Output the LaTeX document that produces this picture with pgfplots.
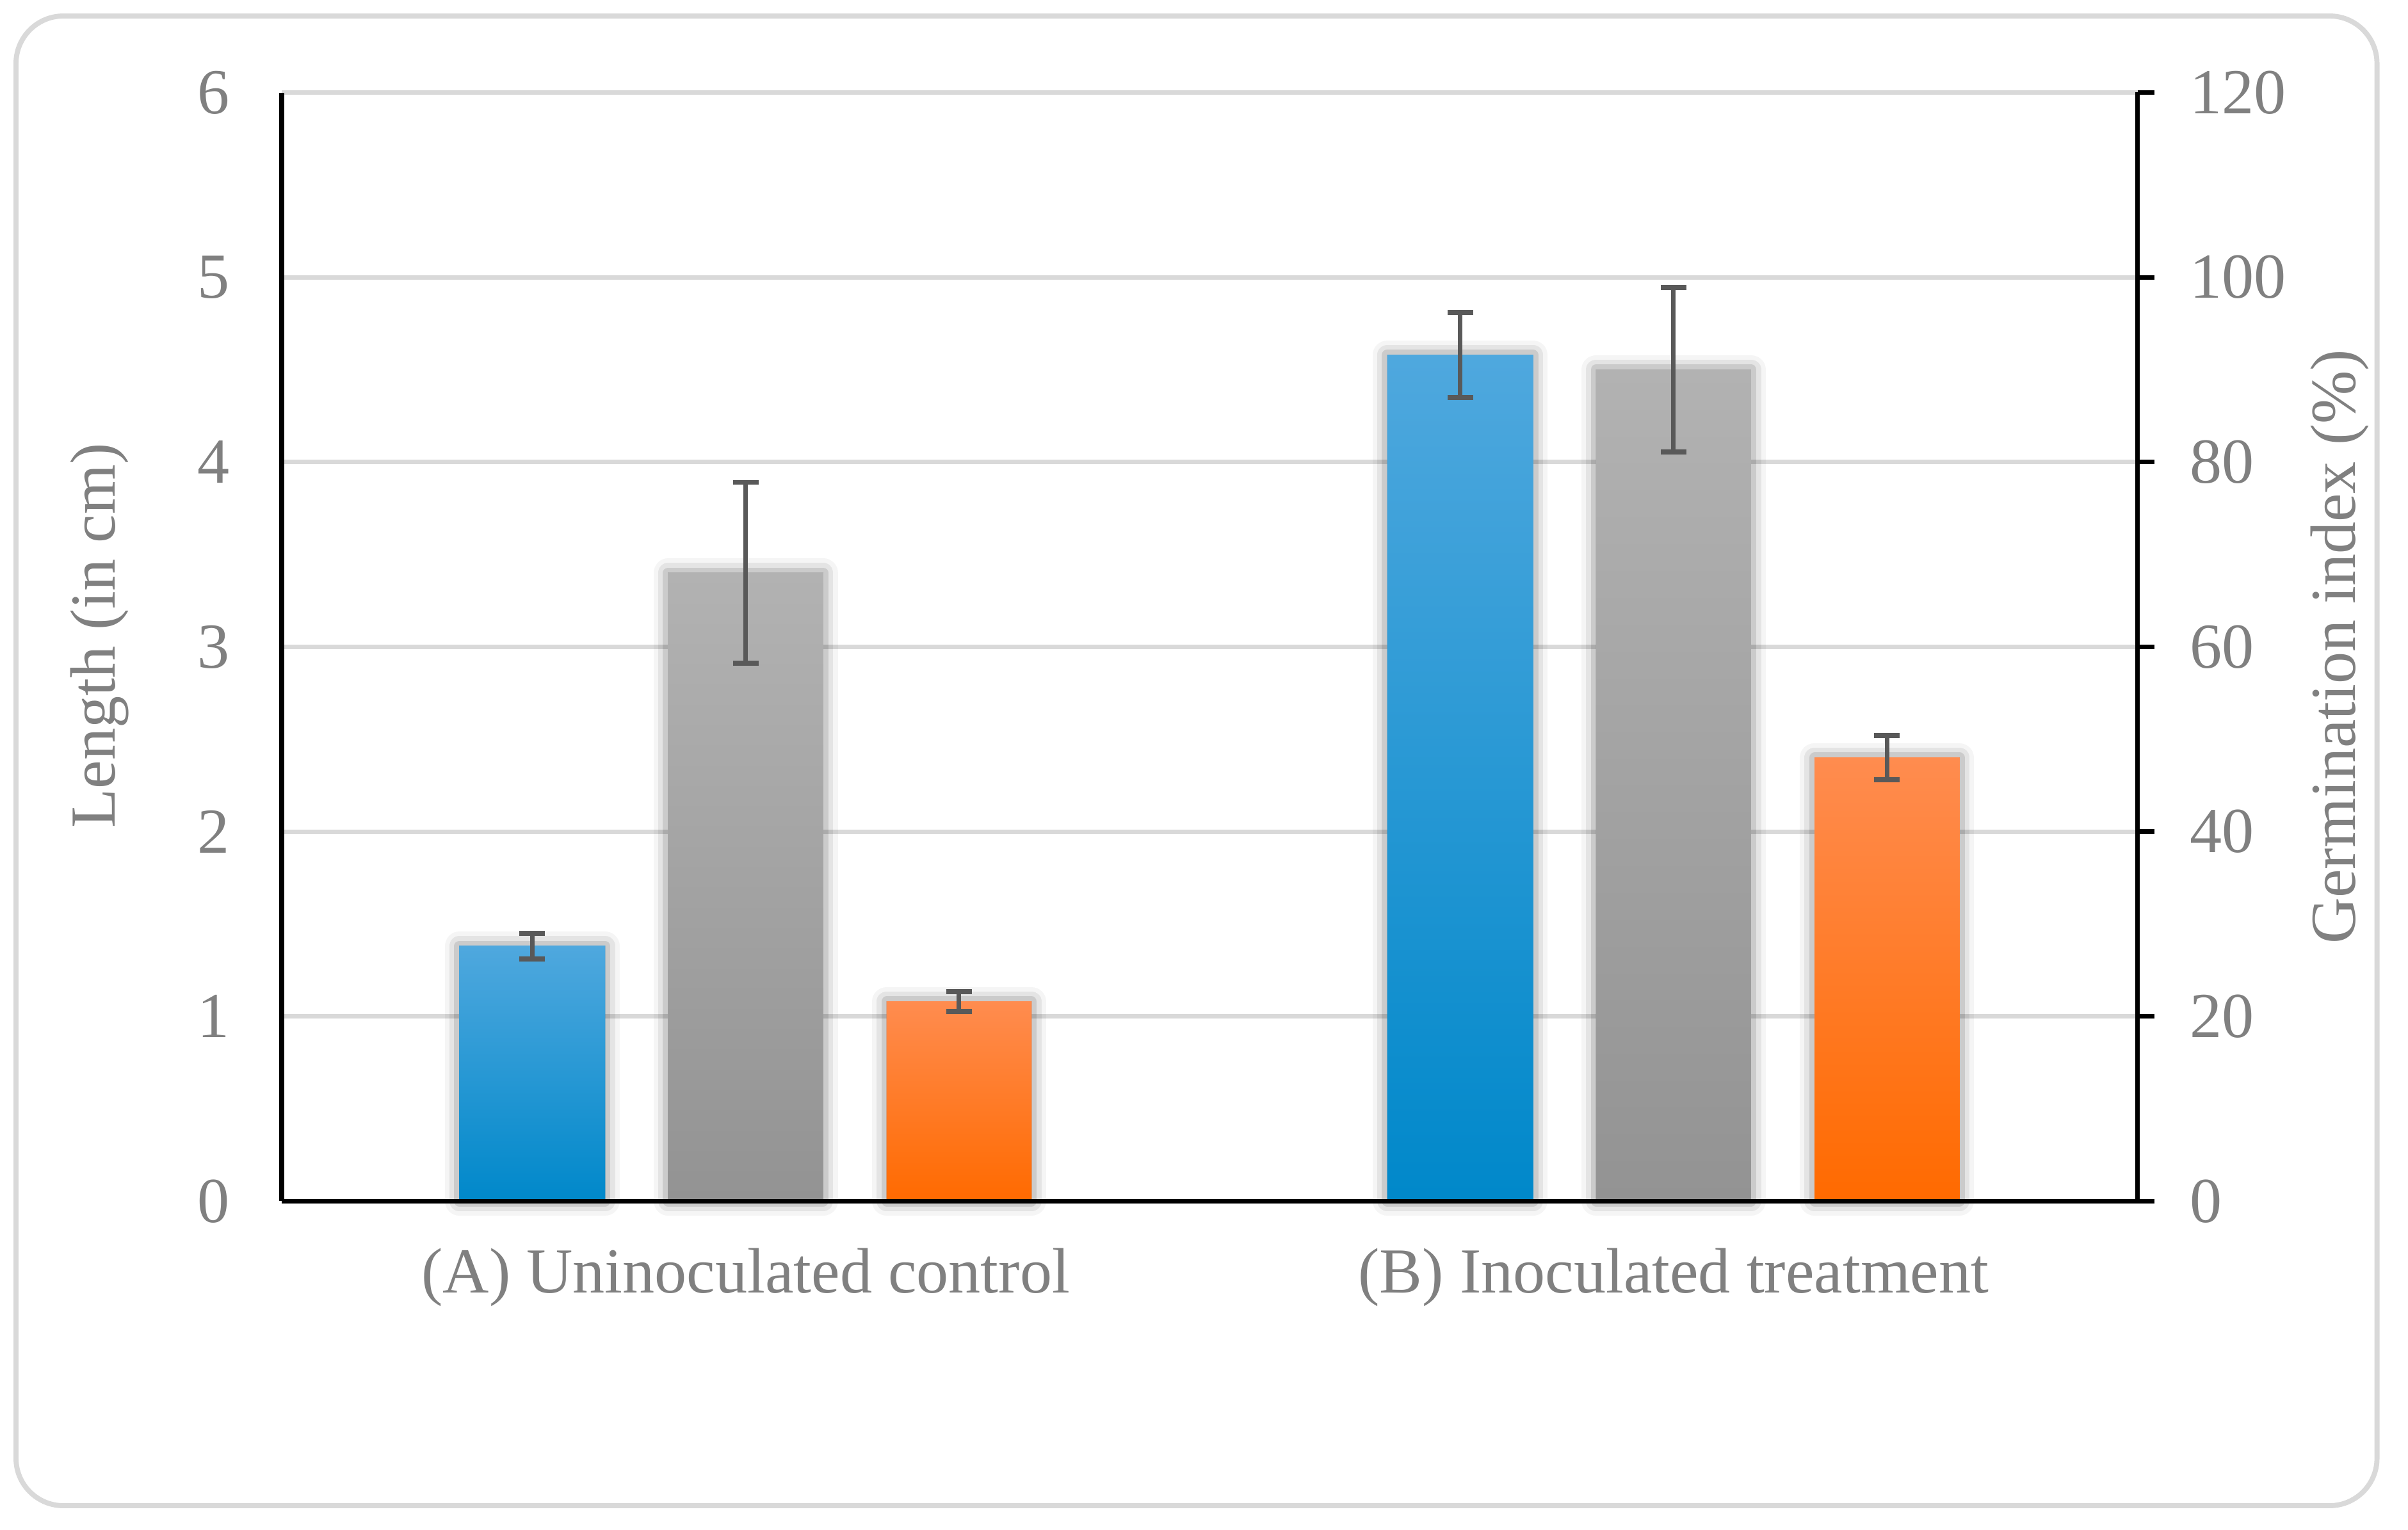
\documentclass[border=0pt]{standalone}
\usepackage{pgfplots}
\pgfplotsset{compat=1.18}
\usepackage{pgfplotstable}
\usepackage{fontspec}
\setmainfont{Liberation Serif}
\definecolor{txt}{HTML}{808080}
\definecolor{gridc}{HTML}{D9D9D9}
\definecolor{errc}{HTML}{595959}
\definecolor{blueT}{HTML}{4FA8DE}
\definecolor{blueM}{HTML}{009ADD}
\definecolor{blueB}{HTML}{0088CA}
\definecolor{grayT}{HTML}{B2B2B2}
\definecolor{grayB}{HTML}{939393}
\definecolor{orT}{HTML}{FF8C4F}
\definecolor{orM}{HTML}{FF7E24}
\definecolor{orB}{HTML}{FF6A00}

\pgfplotstableread{
x len err
-0.23 1.38 0.07
0.77 4.58 0.23
}\bluedata
\pgfplotstableread{
x len err
0.23 1.08 0.055
1.23 2.40 0.12
}\orangedata
\pgfplotstableread{
x gi err
0 68.0 9.8
1 90.0 8.9
}\graydata

\newcommand{\lblfont}{\fontsize{11.4}{13.7}\selectfont}
\tikzset{barshadow/.style={
  preaction={draw=black, draw opacity=0.04, line width=5.2pt, line join=round},
  preaction={draw=black, draw opacity=0.07, line width=3.6pt, line join=round},
  preaction={draw=black, draw opacity=0.11, line width=1.9pt, line join=round}}}
\pgfplotsset{
  common/.style={
    at={(1.76cm,2.051cm)}, anchor=south west,
    scale only axis, width=11.594cm, height=6.927cm,
    xmin=-0.5, xmax=1.5, enlargelimits=false, clip=false,
    /pgf/number format/assume math mode=true,
    tick label style={color=txt, font=\lblfont},
    label style={color=txt, font=\lblfont},
    axis line style={line width=0.8pt, black, -},
  },
  errs/.style={draw=none, forget plot,
    error bars/.cd, y dir=both, y explicit,
    error bar style={draw=errc, line width=0.8pt},
    error mark options={rotate=90, draw=errc, mark size=0.08cm, line width=0.9pt}},
}

\begin{document}
\begin{tikzpicture}
\path (0,0) rectangle (15.044,9.556);
\draw[gridc, line width=0.9pt, rounded corners=0.296cm] (0.1,0.148) rectangle (14.85,9.456);

\begin{axis}[common,
  ymin=0, ymax=6, ytick={0,1,...,6},
  xtick={0,1}, xticklabels={(A) Uninoculated control,(B) Inoculated treatment},
  axis x line*=bottom, axis y line*=left,
  major tick length=0pt,
  ymajorgrids, grid style={gridc, line width=0.8pt},
  yticklabel style={xshift=-0.2cm},
  xticklabel style={yshift=-0.17cm},
  ylabel={Length (in cm)},
  ylabel style={at={(axis description cs:-0.098,0.51)}, anchor=center},
]
\addplot[ybar, bar width=0.157, bar shift=0pt, draw=none, barshadow,
  top color=blueT, middle color=blueM, bottom color=blueB,
  skip coords between index={1}{2}] table[x=x, y=len] \bluedata;
\addplot[ybar, bar width=0.157, bar shift=0pt, draw=none, barshadow,
  top color=blueT, middle color=blueM, bottom color=blueB,
  skip coords between index={0}{1}] table[x=x, y=len] \bluedata;
\addplot[ybar, bar width=0.156, bar shift=0pt, draw=none, barshadow,
  top color=orT, middle color=orM, bottom color=orB,
  skip coords between index={1}{2}] table[x=x, y=len] \orangedata;
\addplot[ybar, bar width=0.156, bar shift=0pt, draw=none, barshadow,
  top color=orT, middle color=orM, bottom color=orB,
  skip coords between index={0}{1}] table[x=x, y=len] \orangedata;
\addplot[errs] table[x=x, y=len, y error=err] \bluedata;
\addplot[errs] table[x=x, y=len, y error=err] \orangedata;
\end{axis}

\begin{axis}[common,
  ymin=0, ymax=120, ytick={0,20,...,120},
  axis x line=none, axis y line*=right, xtick=\empty,
  tick align=outside, major tick length=0.104cm,
  tick style={black, line width=0.8pt},
  yticklabel style={xshift=0.1cm},
  ylabel={Germination index (\%)},
  ylabel style={at={(axis description cs:1.109,0.5)}, anchor=center},
]
\addplot[ybar, bar width=0.167, bar shift=0pt, draw=none, barshadow,
  top color=grayT, bottom color=grayB,
  skip coords between index={1}{2}] table[x=x, y=gi] \graydata;
\addplot[ybar, bar width=0.167, bar shift=0pt, draw=none, barshadow,
  top color=grayT, bottom color=grayB,
  skip coords between index={0}{1}] table[x=x, y=gi] \graydata;
\addplot[errs] table[x=x, y=gi, y error=err] \graydata;
\draw[black, line width=0.8pt] (rel axis cs:0,0) -- (rel axis cs:1,0);
\end{axis}
\end{tikzpicture}
\end{document}
